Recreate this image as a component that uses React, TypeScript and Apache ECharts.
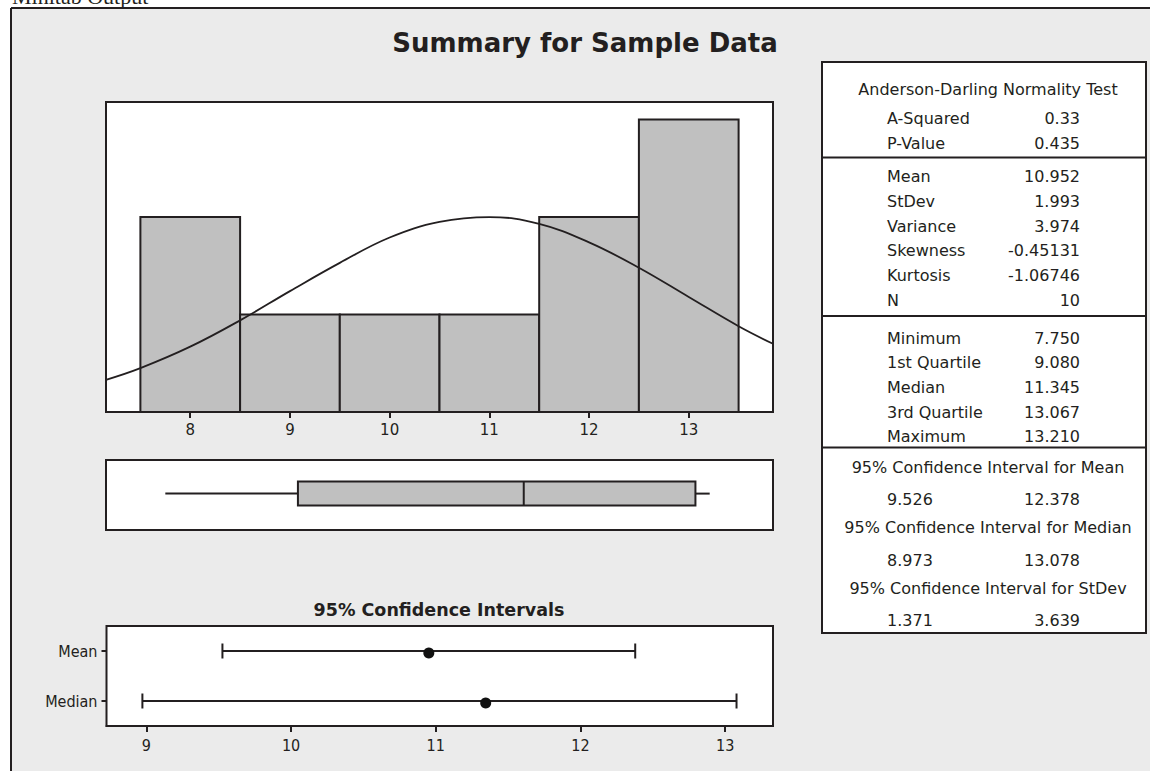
import React, { useEffect, useRef } from "react";
import * as echarts from "echarts";

// ---------- data ----------
const binStarts = [7.5, 8.5, 9.5, 10.5, 11.5, 12.5];
const binEnds = [8.5, 9.5, 10.5, 11.5, 12.5, 13.5];
const binCounts = [2, 1, 1, 1, 2, 3];
const histTicks = [8, 9, 10, 11, 12, 13];

// fitted normal curve (in count units)
const curveX = [7.155, 7.5, 8, 8.5, 9, 9.5, 10, 10.5, 11, 11.5, 12, 12.5, 13, 13.5, 13.845];
const curveY = [0.33, 0.45, 0.67, 0.94, 1.24, 1.53, 1.79, 1.95, 2.0, 1.93, 1.74, 1.48, 1.18, 0.88, 0.7];

const boxStats = [7.75, 9.08, 11.345, 13.067, 13.21]; // min, Q1, median, Q3, max

const ciNames = ["Mean", "Median"];
const ciLower = [9.526, 8.973];
const ciEstimate = [10.952, 11.345];
const ciUpper = [12.378, 13.078];
const ciTicks = [9, 10, 11, 12, 13];

const adTitle = "Anderson-Darling Normality Test";
const adLabels = ["A-Squared", "P-Value"];
const adValues = ["0.33", "0.435"];
const momentLabels = ["Mean", "StDev", "Variance", "Skewness", "Kurtosis", "N"];
const momentValues = ["10.952", "1.993", "3.974", "-0.45131", "-1.06746", "10"];
const quantLabels = ["Minimum", "1st Quartile", "Median", "3rd Quartile", "Maximum"];
const quantValues = ["7.750", "9.080", "11.345", "13.067", "13.210"];
const intervalTitles = [
  "95% Confidence Interval for Mean",
  "95% Confidence Interval for Median",
  "95% Confidence Interval for StDev",
];
const intervalLow = ["9.526", "8.973", "1.371"];
const intervalHigh = ["12.378", "13.078", "3.639"];

// ---------- styles ----------
const ink = "#231f20";
const fillGray = "#c0c0c0";
const sansFont = "'DejaVu Sans', Verdana, sans-serif";
const narrowFont = "'Liberation Sans Narrow', 'DejaVu Sans Condensed', 'Liberation Sans', sans-serif";

function txt(text: string, x: number, y: number, opts: any = {}) {
  return {
    type: "text",
    x,
    y,
    silent: true,
    style: {
      text,
      fill: ink,
      fontSize: opts.fontSize ?? 16,
      fontFamily: opts.fontFamily ?? sansFont,
      fontWeight: opts.fontWeight ?? "normal",
      align: opts.align ?? "left",
      verticalAlign: "middle",
    },
  };
}

function line(x1: number, y1: number, x2: number, y2: number, w = 2) {
  return {
    type: "line",
    silent: true,
    shape: { x1, y1, x2, y2 },
    style: { stroke: ink, lineWidth: w },
  };
}

export default function App() {
  const ref = useRef<HTMLDivElement>(null);

  useEffect(() => {
    const chart = echarts.init(ref.current!, null, { renderer: "svg", width: 1150, height: 771 });

    // table geometry
    const tL = 822, tR = 1146, tT = 62, tB = 633;
    const labelX = 887, valueX = 1080, centerX = 988;
    const tableEls: any[] = [
      {
        type: "rect",
        silent: true,
        shape: { x: tL, y: tT, width: tR - tL, height: tB - tT },
        style: { fill: "#fff", stroke: ink, lineWidth: 2 },
      },
      line(tL, 157.5, tR, 157.5),
      line(tL, 316, tR, 316),
      line(tL, 447.5, tR, 447.5),
      txt(adTitle, centerX, 89.5, { align: "center" }),
    ];
    adLabels.forEach((l, i) => {
      const y = 118.5 + i * 25;
      tableEls.push(txt(l, labelX, y), txt(adValues[i], valueX, y, { align: "right" }));
    });
    momentLabels.forEach((l, i) => {
      const y = 176.7 + i * 24.7;
      tableEls.push(txt(l, labelX, y), txt(momentValues[i], valueX, y, { align: "right" }));
    });
    quantLabels.forEach((l, i) => {
      const y = 338.3 + i * 24.6;
      tableEls.push(txt(l, labelX, y), txt(quantValues[i], valueX, y, { align: "right" }));
    });
    intervalTitles.forEach((t, i) => {
      const yT = 467 + i * 60.7;
      const yV = 499.5 + i * 60.5;
      tableEls.push(
        txt(t, centerX, yT, { align: "center" }),
        txt(intervalLow[i], labelX, yV),
        txt(intervalHigh[i], valueX, yV, { align: "right" })
      );
    });

    const axisLineStyle = { color: ink, width: 2 };

    const option: any = {
      animation: false,
      backgroundColor: "#ebebeb",
      graphic: {
        elements: [
          { type: "rect", silent: true, shape: { x: 0, y: 0, width: 1150, height: 8 }, style: { fill: "#fff" } },
          { type: "rect", silent: true, shape: { x: 0, y: 0, width: 11, height: 771 }, style: { fill: "#fff" } },
          line(11, 8, 1150, 8),
          line(11, 8, 11, 771),
          txt("Minitab Output", 12, -3.5, { fontSize: 22, fontFamily: "'Liberation Serif', 'Times New Roman', serif" }),
          txt("Summary for Sample Data", 585, 43, { fontSize: 26, fontWeight: "bold", align: "center" }),
          txt("95% Confidence Intervals", 439, 610, { fontSize: 17.5, fontWeight: "bold", align: "center" }),
          ...tableEls,
        ],
      },
      grid: [
        { left: 106, top: 102, width: 667, height: 310, show: true, backgroundColor: "#fff", borderColor: ink, borderWidth: 2, outerBoundsMode: "none" },
        { left: 106, top: 460, width: 667, height: 70, show: true, backgroundColor: "#fff", borderColor: ink, borderWidth: 2, outerBoundsMode: "none" },
        { left: 106.5, top: 626, width: 666.5, height: 100, show: true, backgroundColor: "#fff", borderColor: ink, borderWidth: 2, outerBoundsMode: "none" },
      ],
      xAxis: [
        {
          gridIndex: 0,
          type: "value",
          min: 7.155,
          max: 13.845,
          axisLine: { show: true, lineStyle: axisLineStyle },
          axisTick: { show: true, length: 6, customValues: histTicks, lineStyle: axisLineStyle },
          axisLabel: { customValues: histTicks, fontSize: 15, color: ink, fontFamily: sansFont, margin: 10 },
          splitLine: { show: false },
        },
        { gridIndex: 1, type: "value", min: 7.155, max: 13.845, show: false },
        {
          gridIndex: 2,
          type: "value",
          min: 8.725,
          max: 13.33,
          axisLine: { show: true, lineStyle: axisLineStyle },
          axisTick: { show: true, length: 6, customValues: ciTicks, lineStyle: axisLineStyle },
          axisLabel: { customValues: ciTicks, fontSize: 16, color: ink, fontFamily: narrowFont, margin: 11 },
          splitLine: { show: false },
        },
      ],
      yAxis: [
        { gridIndex: 0, type: "value", min: 0, max: 3.18, show: false },
        { gridIndex: 1, type: "value", min: 0, max: 1, show: false },
        {
          gridIndex: 2,
          type: "category",
          data: [...ciNames].reverse(),
          axisLine: { show: false },
          axisTick: { show: true, alignWithLabel: true, length: 5, lineStyle: axisLineStyle },
          axisLabel: { fontSize: 16, color: ink, fontFamily: narrowFont, margin: 9 },
          splitLine: { show: false },
        },
      ],
      series: [
        {
          type: "custom",
          xAxisIndex: 0,
          yAxisIndex: 0,
          data: binStarts.map((s, i) => [s, binEnds[i], binCounts[i]]),
          encode: { x: [0, 1], y: 2 },
          renderItem: (_p: any, api: any) => {
            const p0 = api.coord([api.value(0), api.value(2)]);
            const p1 = api.coord([api.value(1), 0]);
            return {
              type: "rect",
              shape: { x: p0[0], y: p0[1], width: p1[0] - p0[0], height: p1[1] - p0[1] },
              style: { fill: fillGray, stroke: ink, lineWidth: 2 },
            };
          },
        },
        {
          type: "line",
          xAxisIndex: 0,
          yAxisIndex: 0,
          data: curveX.map((x, i) => [x, curveY[i]]),
          smooth: 0.4,
          showSymbol: false,
          symbol: "none",
          clip: true,
          z: 5,
          lineStyle: { color: ink, width: 1.8 },
        },
        {
          type: "custom",
          xAxisIndex: 1,
          yAxisIndex: 1,
          data: [boxStats],
          encode: { x: [0, 1, 2, 3, 4] },
          renderItem: (_p: any, api: any) => {
            const xs = [0, 1, 2, 3, 4].map((i) => api.coord([api.value(i), 0.5])[0]);
            const yc = api.coord([api.value(0), 0.52])[1];
            const h = 12;
            return {
              type: "group",
              children: [
                { type: "line", shape: { x1: xs[0], y1: yc, x2: xs[1], y2: yc }, style: { stroke: ink, lineWidth: 2 } },
                { type: "line", shape: { x1: xs[3], y1: yc, x2: xs[4], y2: yc }, style: { stroke: ink, lineWidth: 2 } },
                {
                  type: "rect",
                  shape: { x: xs[1], y: yc - h, width: xs[3] - xs[1], height: 2 * h },
                  style: { fill: fillGray, stroke: ink, lineWidth: 2 },
                },
                { type: "line", shape: { x1: xs[2], y1: yc - h, x2: xs[2], y2: yc + h }, style: { stroke: ink, lineWidth: 2 } },
              ],
            };
          },
        },
        {
          type: "custom",
          xAxisIndex: 2,
          yAxisIndex: 2,
          data: ciNames.map((n, i) => [ciLower[i], ciEstimate[i], ciUpper[i], n]),
          encode: { x: [0, 1, 2], y: 3 },
          renderItem: (_p: any, api: any) => {
            const cat = api.value(3);
            const pl = api.coord([api.value(0), cat]);
            const pe = api.coord([api.value(1), cat]);
            const pu = api.coord([api.value(2), cat]);
            const c = 7.5;
            return {
              type: "group",
              children: [
                { type: "line", shape: { x1: pl[0], y1: pl[1], x2: pu[0], y2: pu[1] }, style: { stroke: ink, lineWidth: 2 } },
                { type: "line", shape: { x1: pl[0], y1: pl[1] - c, x2: pl[0], y2: pl[1] + c }, style: { stroke: ink, lineWidth: 2 } },
                { type: "line", shape: { x1: pu[0], y1: pu[1] - c, x2: pu[0], y2: pu[1] + c }, style: { stroke: ink, lineWidth: 2 } },
                { type: "circle", shape: { cx: pe[0], cy: pe[1] + 2, r: 5.5 }, style: { fill: "#111" } },
              ],
            };
          },
        },
      ],
    };

    chart.setOption(option);
    return () => chart.dispose();
  }, []);

  return (
    <div
      ref={ref}
      style={{ position: "fixed", left: 0, top: 0, width: 1150, height: 771 }}
    />
  );
}
